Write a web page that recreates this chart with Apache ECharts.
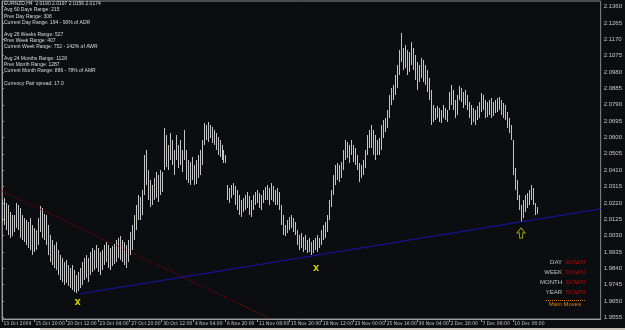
<!DOCTYPE html>
<html>
<head>
<meta charset="utf-8">
<script src="https://cdn.jsdelivr.net/npm/echarts@6/dist/echarts.min.js"></script>
<style>
  html, body { margin: 0; padding: 0; background: #0c0d10; }
  #chart { width: 625px; height: 330px; }
</style>
</head>
<body>
<div id="chart"></div>
<script>
// EURNZD H4 bars (high / low per bar)
const highs = [
  2.0237, 2.0249, 2.0220, 2.0208, 2.0167, 2.0150, 2.0150, 2.0220, 2.0208, 2.0191,
  2.0150, 2.0133, 2.0121, 2.0109, 2.0133, 2.0092, 2.0075, 2.0063, 2.0133, 2.0202,
  2.0191, 2.0156, 2.0150, 2.0092, 2.0034, 2.0005, 1.9976, 1.9993, 1.9946, 1.9917,
  1.9900, 1.9876, 1.9888, 1.9859, 1.9842, 1.9859, 1.9830, 1.9801, 1.9818, 1.9842,
  1.9876, 1.9900, 1.9917, 1.9900, 1.9934, 1.9959, 1.9946, 1.9976, 1.9959, 1.9934,
  1.9946, 1.9976, 1.9993, 1.9976, 1.9959, 1.9970, 1.9982, 2.0005, 2.0017, 2.0028,
  2.0005, 1.9993, 1.9976, 2.0005, 2.0051, 2.0092, 2.0150, 2.0208, 2.0266, 2.0254,
  2.0295, 2.0498, 2.0527, 2.0411, 2.0353, 2.0324, 2.0365, 2.0399, 2.0382, 2.0411,
  2.0399, 2.0656, 2.0615, 2.0557, 2.0627, 2.0586, 2.0527, 2.0615, 2.0557, 2.0586,
  2.0527, 2.0644, 2.0527, 2.0469, 2.0457, 2.0486, 2.0440, 2.0469, 2.0498, 2.0527,
  2.0586, 2.0685, 2.0673, 2.0690, 2.0673, 2.0661, 2.0644, 2.0627, 2.0603, 2.0586,
  2.0557, 2.0527, 2.0498, 2.0324, 2.0307, 2.0324, 2.0336, 2.0318, 2.0295, 2.0266,
  2.0237, 2.0249, 2.0266, 2.0283, 2.0260, 2.0237, 2.0266, 2.0283, 2.0295, 2.0278,
  2.0266, 2.0295, 2.0312, 2.0324, 2.0307, 2.0336, 2.0318, 2.0295, 2.0307, 2.0283,
  2.0208, 2.0150, 2.0092, 2.0121, 2.0138, 2.0150, 2.0133, 2.0109, 2.0063, 2.0034,
  2.0046, 2.0022, 2.0034, 2.0005, 2.0017, 1.9993, 2.0005, 2.0017, 2.0034, 2.0017,
  2.0063, 2.0092, 2.0109, 2.0150, 2.0237, 2.0295, 2.0382, 2.0440, 2.0452, 2.0440,
  2.0457, 2.0527, 2.0586, 2.0574, 2.0557, 2.0586, 2.0557, 2.0540, 2.0498, 2.0452,
  2.0440, 2.0469, 2.0527, 2.0615, 2.0644, 2.0673, 2.0644, 2.0615, 2.0586, 2.0598,
  2.0673, 2.0702, 2.0714, 2.0760, 2.0847, 2.0888, 2.0905, 2.0963, 2.1021, 2.1108,
  2.1208, 2.1121, 2.1138, 2.1108, 2.1096, 2.1155, 2.1121, 2.1079, 2.1038, 2.1021,
  2.1062, 2.1050, 2.1021, 2.0992, 2.0946, 2.0876, 2.0789, 2.0772, 2.0783, 2.0772,
  2.0760, 2.0789, 2.0772, 2.0760, 2.0864, 2.0905, 2.0876, 2.0818, 2.0847, 2.0899,
  2.0888, 2.0864, 2.0876, 2.0847, 2.0806, 2.0789, 2.0772, 2.0760, 2.0783, 2.0806,
  2.0859, 2.0847, 2.0818, 2.0806, 2.0818, 2.0830, 2.0806, 2.0818, 2.0830, 2.0835,
  2.0818, 2.0801, 2.0789, 2.0748, 2.0714, 2.0673, 2.0586, 2.0423, 2.0353, 2.0266,
  2.0208, 2.0237, 2.0266, 2.0278, 2.0295, 2.0324, 2.0307, 2.0220, 2.0197
]
const lows = [
  2.0109, 2.0092, 2.0063, 2.0034, 2.0017, 2.0028, 2.0051, 2.0075, 2.0063, 2.0017,
  2.0005, 1.9993, 1.9976, 1.9959, 1.9946, 1.9917, 1.9934, 1.9946, 1.9976, 2.0051,
  2.0017, 2.0005, 1.9976, 1.9917, 1.9876, 1.9859, 1.9842, 1.9830, 1.9801, 1.9772,
  1.9760, 1.9743, 1.9755, 1.9737, 1.9726, 1.9714, 1.9702, 1.9697, 1.9708, 1.9726,
  1.9743, 1.9772, 1.9784, 1.9760, 1.9801, 1.9818, 1.9830, 1.9842, 1.9818, 1.9801,
  1.9830, 1.9859, 1.9876, 1.9842, 1.9830, 1.9853, 1.9865, 1.9876, 1.9900, 1.9888,
  1.9876, 1.9859, 1.9842, 1.9876, 1.9917, 1.9946, 2.0005, 2.0063, 2.0121, 2.0121,
  2.0150, 2.0266, 2.0324, 2.0237, 2.0196, 2.0208, 2.0237, 2.0249, 2.0225, 2.0266,
  2.0283, 2.0411, 2.0428, 2.0411, 2.0469, 2.0440, 2.0382, 2.0469, 2.0423, 2.0440,
  2.0399, 2.0469, 2.0353, 2.0336, 2.0324, 2.0353, 2.0324, 2.0330, 2.0365, 2.0382,
  2.0440, 2.0557, 2.0586, 2.0574, 2.0598, 2.0569, 2.0557, 2.0527, 2.0498, 2.0486,
  2.0469, 2.0452, 2.0452, 2.0237, 2.0220, 2.0249, 2.0266, 2.0208, 2.0179, 2.0150,
  2.0138, 2.0167, 2.0179, 2.0191, 2.0150, 2.0138, 2.0179, 2.0208, 2.0220, 2.0191,
  2.0179, 2.0220, 2.0237, 2.0237, 2.0208, 2.0237, 2.0225, 2.0208, 2.0208, 2.0179,
  2.0092, 2.0034, 2.0028, 2.0046, 2.0063, 2.0075, 2.0051, 2.0034, 1.9976, 1.9946,
  1.9959, 1.9934, 1.9946, 1.9929, 1.9934, 1.9917, 1.9929, 1.9946, 1.9934, 1.9959,
  1.9976, 2.0005, 2.0017, 2.0051, 2.0121, 2.0196, 2.0266, 2.0324, 2.0353, 2.0341,
  2.0365, 2.0411, 2.0469, 2.0481, 2.0452, 2.0498, 2.0457, 2.0440, 2.0411, 2.0341,
  2.0365, 2.0382, 2.0423, 2.0498, 2.0540, 2.0540, 2.0498, 2.0469, 2.0498, 2.0498,
  2.0527, 2.0598, 2.0632, 2.0656, 2.0714, 2.0789, 2.0818, 2.0847, 2.0888, 2.0963,
  2.1038, 2.0992, 2.1004, 2.0963, 2.0980, 2.1021, 2.0992, 2.0934, 2.0876, 2.0922,
  2.0946, 2.0922, 2.0905, 2.0864, 2.0818, 2.0673, 2.0690, 2.0702, 2.0714, 2.0690,
  2.0685, 2.0714, 2.0702, 2.0690, 2.0760, 2.0789, 2.0760, 2.0714, 2.0731, 2.0818,
  2.0806, 2.0772, 2.0789, 2.0760, 2.0714, 2.0673, 2.0690, 2.0673, 2.0702, 2.0714,
  2.0748, 2.0760, 2.0714, 2.0719, 2.0731, 2.0714, 2.0725, 2.0743, 2.0748, 2.0760,
  2.0731, 2.0714, 2.0702, 2.0656, 2.0627, 2.0586, 2.0382, 2.0295, 2.0237, 2.0179,
  2.0109, 2.0133, 2.0167, 2.0191, 2.0208, 2.0237, 2.0208, 2.0150, 2.0156
]

// time labels every 16 bars
const timeLabels = ['13 Oct 2009', '15 Oct 20:00', '20 Oct 12:00', '23 Oct 04:00', '27 Oct 20:00',
  '30 Oct 12:00', '4 Nov 04:00', '6 Nov 20:00', '11 Nov 08:00', '15 Nov 20:00', '18 Nov 12:00',
  '23 Nov 00:00', '25 Nov 16:00', '30 Nov 04:00', '2 Dec 20:00', '7 Dec 08:00', '10 Dec 00:00']
const labelStep = 16

const priceTicks = [2.1360, 2.1265, 2.1170, 2.1075, 2.0980, 2.0885, 2.0790, 2.0695, 2.0600, 2.0505,
  2.0410, 2.0315, 2.0220, 2.0125, 2.0030, 1.9935, 1.9840, 1.9745, 1.9650, 1.9555]
const lastPrice = 2.0174

// trend lines [bar, price]
const supportLine = [[38.9, 1.9691], [300, 2.0185]]
const resistLine = [[0, 2.0289], [133.5, 1.9551]]
// yellow marks
const crossMarks = [[37.9, 1.9644], [157.4, 1.9842]]
const arrowMarks = [[260.1, 2.0045]]

const infoLines = [
  'EURNZD,H4  2.0190 2.0197 2.0156 2.0174',
  'Avg 60 Days Range: 215',
  'Prev Day Range: 308',
  'Current Day Range: 194 - 90% of ADR',
  '',
  'Avg 26 Weeks Range: 527',
  'Prev Week Range: 407',
  'Current Week Range: 752 - 142% of AWR',
  '',
  'Avg 24 Months Range: 1128',
  'Prev Month Range: 1287',
  'Current Month Range: 886 - 78% of AMR',
  '',
  'Currency Pair spread: 17.0'
]
const trendNames = ['DAY', 'WEEK', 'MONTH', 'YEAR']
const trendStates = ['DOWN', 'DOWN', 'DOWN', 'DOWN']

const bars = highs.map((h, i) => [i, h, lows[i]])

const fontFam = 'Liberation Sans, Arial, sans-serif'
const narrowFam = 'Liberation Sans Narrow, DejaVu Sans Condensed, Liberation Sans, sans-serif'
const graphics = []
infoLines.forEach((t, k) => {
  if (!t) return
  graphics.push({
    type: 'text', left: 4, top: 1.5 + k * 6.1, silent: true,
    style: { text: t, fill: '#dcdcdc', font: '5px ' + fontFam }
  })
})
trendNames.forEach((t, k) => {
  graphics.push({
    type: 'text', x: 562, y: 262 + k * 10.2, silent: true,
    style: { text: t, fill: '#c4c4c4', font: '6px ' + fontFam, align: 'right', verticalAlign: 'middle' }
  })
  graphics.push({
    type: 'text', x: 566, y: 262 + k * 10.2, silent: true,
    style: { text: trendStates[k], fill: '#c40000', font: '6px ' + fontFam, align: 'left', verticalAlign: 'middle' }
  })
})
graphics.push({
  type: 'line', silent: true,
  shape: { x1: 546, y1: 300.5, x2: 585, y2: 300.5 },
  style: { stroke: '#d07810', lineWidth: 1, lineDash: [1, 1] }
})
graphics.push({
  type: 'text', x: 565, y: 304.5, silent: true,
  style: { text: 'Main Moves', fill: '#e08010', font: '6px ' + fontFam, align: 'center', verticalAlign: 'middle' }
})
// tab strip at the bottom
graphics.push({ type: 'rect', silent: true, shape: { x: 0, y: 328, width: 625, height: 2 }, style: { fill: '#c8c4bc' } })
graphics.push({ type: 'rect', silent: true, shape: { x: 0, y: 328, width: 40, height: 2 }, style: { fill: '#ffffff' } })

const chart = echarts.init(document.getElementById('chart'))
chart.setOption({
  backgroundColor: '#0c0d10',
  animation: false,
  grid: { left: 2, right: 21, top: 1, bottom: 11, show: true, borderColor: '#8a8a8a', borderWidth: 1 },
  xAxis: {
    type: 'value', min: 0, max: 300,
    splitLine: { show: false },
    axisLine: { show: true, lineStyle: { color: '#9a9a9a' } },
    axisTick: { show: true, length: 3, lineStyle: { color: '#9a9a9a' }, customValues: timeLabels.map((t, k) => k * labelStep) },
    axisLabel: {
      customValues: timeLabels.map((t, k) => k * labelStep),
      formatter: v => timeLabels[Math.round(v / labelStep)],
      color: '#c8c8c8', fontSize: 5, fontFamily: narrowFam, align: 'left', margin: 2.5, padding: [0, 0, 0, 1.5]
    }
  },
  yAxis: {
    type: 'value', position: 'right', min: 1.9545, max: 2.1393, scale: true,
    splitLine: { show: false },
    axisLine: { show: true, lineStyle: { color: '#9a9a9a' } },
    axisTick: { show: true, length: 2, lineStyle: { color: '#9a9a9a' }, customValues: priceTicks },
    axisLabel: {
      customValues: priceTicks,
      formatter: v => v.toFixed(4),
      color: '#c8c8c8', fontSize: 6, fontFamily: fontFam, margin: 3
    }
  },
  graphic: graphics,
  series: [
    {
      type: 'custom',
      data: bars,
      clip: true,
      renderItem: function (params, api) {
        const top = api.coord([api.value(0), api.value(1)])
        const bot = api.coord([api.value(0), api.value(2)])
        const x = Math.round(top[0]) + 0.5
        return {
          type: 'line',
          shape: { x1: x, y1: Math.round(top[1]), x2: x, y2: Math.round(bot[1]) },
          style: { stroke: '#c4c4c4', lineWidth: 1 }
        }
      }
    },
    {
      type: 'line', data: resistLine, symbol: 'none', clip: true,
      lineStyle: { color: '#c00000', width: 1, type: [1, 2] }
    },
    {
      type: 'line', data: supportLine, symbol: 'none', clip: true,
      lineStyle: { color: '#1414b4', width: 1 },
      markLine: {
        silent: true, symbol: 'none',
        lineStyle: { opacity: 0 },
        data: [{ yAxis: lastPrice }],
        label: {
          position: 'end', distance: 0, formatter: lastPrice.toFixed(4),
          backgroundColor: '#ffffff', color: '#000000', fontSize: 6, fontFamily: fontFam, padding: [1, 1, 0, 2]
        }
      }
    },
    {
      type: 'scatter', data: crossMarks, symbolSize: 6,
      symbol: 'path://M0,0L3,0L5,3L7,0L10,0L6.5,5L10,10L7,10L5,7L3,10L0,10L3.5,5Z',
      itemStyle: { color: '#ffff00' }
    },
    {
      type: 'scatter', data: arrowMarks, symbolSize: [8, 10],
      symbol: 'path://M5,0L10,5L7,5L7,10L3,10L3,5L0,5Z',
      itemStyle: { color: 'rgba(0,0,0,0)', borderColor: '#c8c800', borderWidth: 1 }
    }
  ]
})
</script>
</body>
</html>
